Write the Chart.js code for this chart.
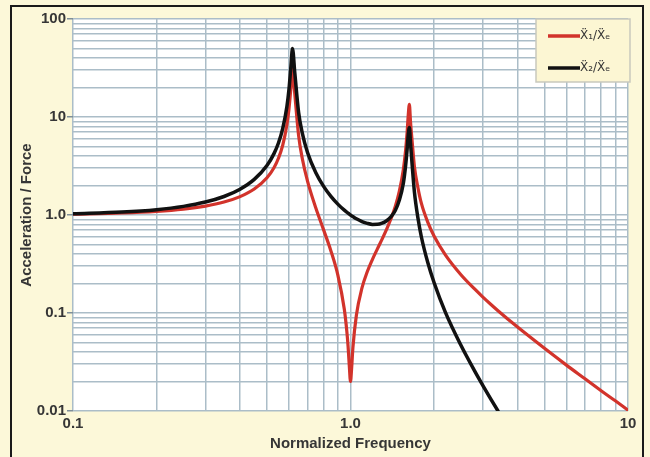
<!DOCTYPE html>
<html>
<head>
<meta charset="utf-8">
<script src="https://cdn.jsdelivr.net/npm/chart.js@4/dist/chart.umd.min.js"></script>
<style>
  html, body { margin: 0; padding: 0; background: #fcf8d9; }
  canvas { display: block; }
</style>
</head>
<body>
<canvas id="chart" width="650" height="457"></canvas>
<script>
// normalized frequency (x) and the two response ratios
let freq = [
    0.1, 0.15, 0.2, 0.25, 0.3, 0.35, 0.4, 0.45, 0.5, 0.53, 0.55, 0.57, 0.59, 0.6, 0.61, 0.618,
    0.63, 0.65, 0.67, 0.7, 0.75, 0.8, 0.85, 0.9, 0.95, 0.97, 0.98, 0.99, 1.0, 1.01, 1.02, 1.05,
    1.1, 1.15, 1.2, 1.25, 1.3, 1.35, 1.4, 1.45, 1.5, 1.55, 1.58, 1.6, 1.615, 1.63, 1.645, 1.67,
    1.7, 1.75, 1.8, 1.9, 2.0, 2.2, 2.5, 2.8, 3.0, 3.2, 3.4, 4, 5, 6, 7, 8, 9, 10
];
let ratio1 = [
    1.02, 1.048, 1.089, 1.148, 1.233, 1.355, 1.54, 1.84, 2.4, 3.04, 3.79, 5.16, 8.4, 12, 20, 31,
    17, 6.5, 3.8, 2.22, 1.18, 0.705, 0.43, 0.2455, 0.109, 0.065, 0.046, 0.029, 0.02, 0.028, 0.044, 0.095,
    0.18, 0.265, 0.353, 0.451, 0.568, 0.718, 0.92, 1.22, 1.75, 2.9, 4.6, 7.0, 10.5, 13.5, 9.0, 5.4,
    3.1, 1.9, 1.32, 0.84, 0.61, 0.39, 0.246, 0.176, 0.1455, 0.123, 0.1056, 0.0718, 0.0436, 0.0294, 0.0213, 0.0161, 0.0127, 0.0102
];
let ratio2 = [
    1.03, 1.072, 1.134, 1.225, 1.355, 1.544, 1.833, 2.307, 3.2, 4.23, 5.43, 7.64, 12.8, 19, 33, 50,
    28, 11.2, 6.89, 4.35, 2.7, 1.96, 1.55, 1.292, 1.12, 1.067, 1.043, 1.02, 1.0, 0.98, 0.963, 0.916,
    0.858, 0.821, 0.802, 0.8025, 0.824, 0.873, 0.96, 1.11, 1.42, 2.1, 3.2, 4.7, 6.6, 7.8, 5.4, 3.1,
    1.7, 0.93, 0.6, 0.325, 0.205, 0.101, 0.0469, 0.0257, 0.0182, 0.0133, 0.0100, null, null, null, null, null, null, null
];

let seriesLabels = ["Ẍ\u2081/Ẍ\u2091", "Ẍ\u2082/Ẍ\u2091"];
let seriesColors = ["#d2332b", "#111111"];

// labelled decades on each axis
let xTickValues = [0.1, 1, 10];
let xTickLabels = ["0.1", "1.0", "10"];
let yTickValues = [0.01, 0.1, 1, 10, 100];
let yTickLabels = ["0.01", "0.1", "1.0", "10", "100"];

let gridColor = "#abbdc8";
let textColor = "#363636";

function logTicks(decades) {
    let ticks = [];
    for (let d = 0; d < decades.length - 1; d++) {
        for (let m = 1; m < 10; m++) {
            ticks.push({value: +(decades[d] * m).toPrecision(6)});
        }
    }
    ticks.push({value: decades[decades.length - 1]});
    return ticks;
}

function labelFor(values, labels, v) {
    let i = values.findIndex(t => Math.abs(t - v) / t < 1e-6);
    return i >= 0 ? labels[i] : "";
}

function toPoints(ys) {
    return freq.map((f, i) => ({x: f, y: ys[i]}));
}

let backgroundPlugin = {
    id: "background",
    beforeDraw(chart) {
        let ctx = chart.ctx;
        let a = chart.chartArea;
        ctx.save();
        ctx.fillStyle = "#fcf8d9";
        ctx.fillRect(0, 0, chart.width, chart.height);
        ctx.fillStyle = "#ffffff";
        ctx.fillRect(a.left, a.top, a.right - a.left, a.bottom - a.top);
        ctx.restore();
    },
    afterDraw(chart) {
        let ctx = chart.ctx;
        ctx.save();
        // outer frame
        ctx.strokeStyle = "#1a1a1a";
        ctx.lineWidth = 2;
        ctx.strokeRect(11, 6, 632, 470);

        // legend box in the upper right corner
        ctx.fillStyle = "#fcf6d3";
        ctx.fillRect(536, 19, 94, 63);
        ctx.strokeStyle = "#c9c9bd";
        ctx.lineWidth = 1.5;
        ctx.strokeRect(536, 19, 94, 63);

        let rows = [36, 68];
        chart.data.datasets.forEach((ds, i) => {
            ctx.strokeStyle = ds.borderColor;
            ctx.lineWidth = 3.5;
            ctx.beginPath();
            ctx.moveTo(548, rows[i]);
            ctx.lineTo(580, rows[i]);
            ctx.stroke();
            ctx.fillStyle = textColor;
            ctx.font = "12px 'DejaVu Sans', sans-serif";
            ctx.textBaseline = "middle";
            ctx.fillText(ds.label, 580, rows[i]);
        });
        ctx.restore();
    }
};

function initChart() {
    let ctx = document.getElementById("chart").getContext("2d");
    new Chart(ctx, {
        type: "line",
        data: {
            datasets: [{
                label: seriesLabels[0],
                data: toPoints(ratio1),
                borderColor: seriesColors[0],
                borderWidth: 3.2,
                order: 1
            }, {
                label: seriesLabels[1],
                data: toPoints(ratio2),
                borderColor: seriesColors[1],
                borderWidth: 3.5,
                order: 0
            }]
        },
        options: {
            responsive: false,
            animation: false,
            devicePixelRatio: 1,
            layout: {padding: {left: 0, top: 19, right: 22, bottom: 0}},
            elements: {
                point: {radius: 0},
                line: {cubicInterpolationMode: "monotone", borderJoinStyle: "round", borderCapStyle: "round"}
            },
            plugins: {
                legend: {display: false},
                tooltip: {enabled: false}
            },
            scales: {
                x: {
                    type: "logarithmic",
                    min: 0.1,
                    max: 10,
                    afterBuildTicks: scale => { scale.ticks = logTicks(xTickValues); },
                    afterFit: scale => { scale.height = 46; },
                    border: {display: false},
                    grid: {color: gridColor, lineWidth: 1.5, drawTicks: false},
                    ticks: {
                        autoSkip: false,
                        maxRotation: 0,
                        padding: 4,
                        color: textColor,
                        font: {family: "'Liberation Sans', Arial, sans-serif", size: 15, weight: "bold"},
                        callback: v => labelFor(xTickValues, xTickLabels, v)
                    },
                    title: {
                        display: true,
                        text: "Normalized Frequency",
                        color: textColor,
                        padding: {top: 0, bottom: 4},
                        font: {family: "'Liberation Sans', Arial, sans-serif", size: 15, weight: "bold"}
                    }
                },
                y: {
                    type: "logarithmic",
                    min: 0.01,
                    max: 100,
                    afterBuildTicks: scale => { scale.ticks = logTicks(yTickValues); },
                    afterFit: scale => { scale.width = 73; },
                    border: {display: false},
                    grid: {
                        color: gridColor,
                        lineWidth: 1.5,
                        tickLength: 6,
                        tickColor: c => labelFor(yTickValues, yTickLabels, c.tick.value) ? "#7f8f99" : "rgba(0,0,0,0)"
                    },
                    ticks: {
                        autoSkip: false,
                        padding: 1,
                        color: textColor,
                        font: {family: "'Liberation Sans', Arial, sans-serif", size: 15, weight: "bold"},
                        callback: v => labelFor(yTickValues, yTickLabels, v)
                    },
                    title: {
                        display: true,
                        text: "Acceleration / Force",
                        color: textColor,
                        padding: {top: 18, bottom: 0},
                        font: {family: "'Liberation Sans', Arial, sans-serif", size: 15, weight: "bold"}
                    }
                }
            }
        },
        plugins: [backgroundPlugin]
    });
}

window.onload = initChart;
</script>
</body>
</html>
